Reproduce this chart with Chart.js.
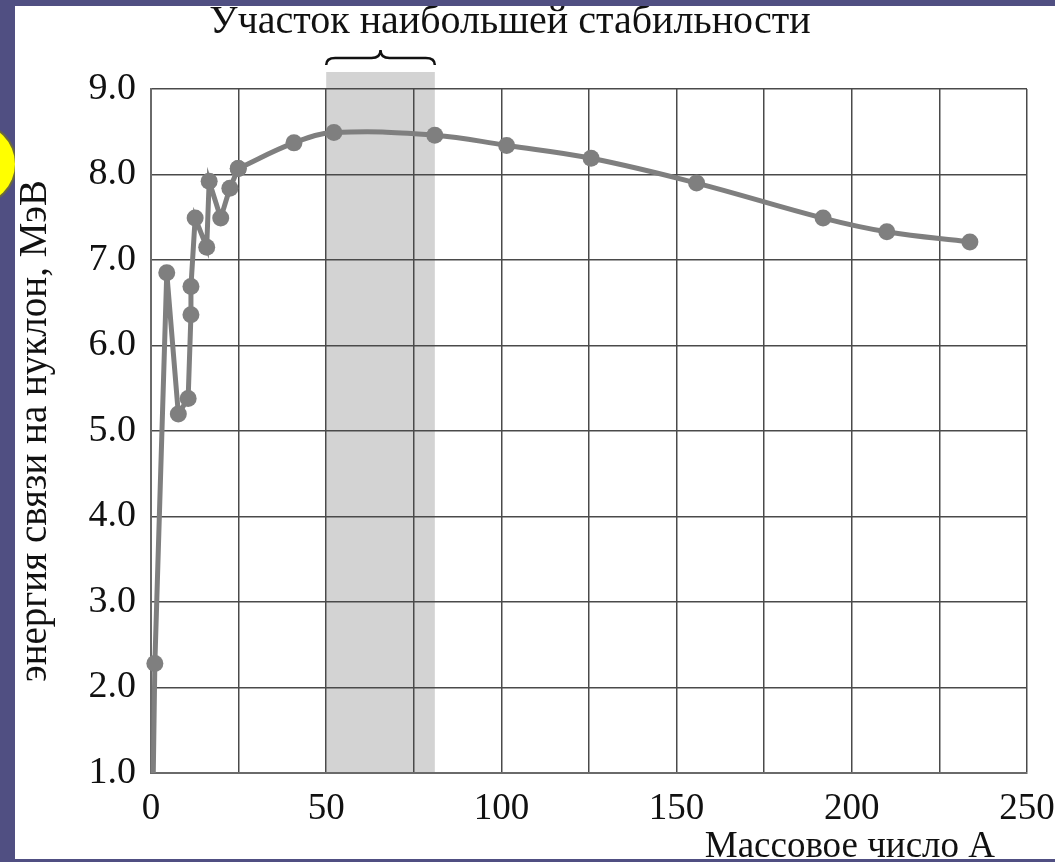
<!DOCTYPE html>
<html>
<head>
<meta charset="utf-8">
<script src="https://cdn.jsdelivr.net/npm/chart.js@4.4.1/dist/chart.umd.min.js"></script>
<style>
  html, body { margin: 0; padding: 0; }
  body { width: 1055px; height: 862px; background: #504f82; position: relative; overflow: hidden; }
  #sun { position: absolute; left: -65px; top: 124px; width: 80px; height: 80px; border-radius: 50%; background: #ffff00; box-shadow: 0 0 0 2px #6b6a3a; }
  #panel { position: absolute; left: 15px; top: 6px; width: 1040px; height: 853px; background: #ffffff; }
  canvas { display: block; }
</style>
</head>
<body>
<div id="sun"></div>
<div id="panel"><canvas id="c" width="1040" height="853"></canvas></div>
<script>
// ---- data ----
const massLight   = [0.3, 1.1, 4.5, 7.8, 10.6, 11.4, 11.4, 12.6, 15.9, 16.6, 19.9, 22.5, 24.9];
const energyLight = [0.0, 2.28, 6.85, 5.2, 5.38, 6.36, 6.69, 7.49, 7.15, 7.92, 7.49, 7.84, 8.07];
const massHeavy   = [24.9, 40.8, 52.2, 81.0, 101.5, 125.6, 155.7, 191.8, 210.0, 233.7];
const energyHeavy = [8.07, 8.37, 8.49, 8.46, 8.34, 8.19, 7.90, 7.49, 7.33, 7.21];
const xTickValues = [0, 50, 100, 150, 200, 250];
const xTickLabels = ['0', '50', '100', '150', '200', '250'];
const yTickValues = [1, 2, 3, 4, 5, 6, 7, 8, 9];
const yTickLabels = ['1.0', '2.0', '3.0', '4.0', '5.0', '6.0', '7.0', '8.0', '9.0'];
const stableRange = [50, 81];
const titleText = 'Участок наибольшей стабильности';
const xTitleText = 'Массовое число А';
const yTitleText = 'энергия связи на нуклон, МэВ';

const SERIF = '"Liberation Serif", "DejaVu Serif", serif';
const LINE = '#7f7f7f';
const Y_MIN = 1, Y_MAX = 9;

function pts(xs, ys) { return xs.map((x, i) => ({ x: x, y: ys[i] })); }

const decor = {
  id: 'decor',
  beforeDraw(chart) {
    const { ctx, chartArea: a, scales: { x } } = chart;
    const x1 = x.getPixelForValue(stableRange[0]);
    const x2 = x.getPixelForValue(stableRange[1]);
    ctx.save();
    ctx.fillStyle = '#d3d3d3';
    ctx.fillRect(x1, a.top - 17, x2 - x1, a.bottom - a.top + 17);
    // brace
    const yEnd = a.top - 24, yMid = a.top - 31, yTip = a.top - 39, xm = (x1 + x2) / 2;
    ctx.strokeStyle = '#111';
    ctx.lineWidth = 2.5;
    ctx.beginPath();
    ctx.moveTo(x1, yEnd);
    ctx.quadraticCurveTo(x1, yMid, x1 + 9, yMid);
    ctx.lineTo(xm - 9, yMid);
    ctx.quadraticCurveTo(xm, yMid, xm, yTip);
    ctx.quadraticCurveTo(xm, yMid, xm + 9, yMid);
    ctx.lineTo(x2 - 9, yMid);
    ctx.quadraticCurveTo(x2, yMid, x2, yEnd);
    ctx.stroke();
    ctx.restore();
  },
  afterDraw(chart) {
    const { ctx, chartArea: a } = chart;
    ctx.save();
    ctx.fillStyle = '#111';
    ctx.font = '40px ' + SERIF;
    ctx.textAlign = 'center';
    ctx.textBaseline = 'alphabetic';
    ctx.fillText(titleText, 495, 27);
    ctx.font = '37px ' + SERIF;
    ctx.textAlign = 'right';
    ctx.fillText(xTitleText, a.right - 32, 851);
    ctx.restore();
  }
};

new Chart(document.getElementById('c'), {
  type: 'scatter',
  data: {
    datasets: [
      {
        data: pts(massLight, energyLight),
        showLine: true, tension: 0,
        borderColor: LINE, borderWidth: 5, backgroundColor: LINE,
        pointRadius: ctx => (ctx.raw && ctx.raw.y < Y_MIN ? 0 : 8.5),
        pointBorderWidth: 0, pointHoverRadius: 0,
        clip: { left: 12, top: 12, right: 12, bottom: 0 }
      },
      {
        data: pts(massHeavy, energyHeavy),
        showLine: true, tension: 0.4,
        borderColor: LINE, borderWidth: 5, backgroundColor: LINE,
        pointRadius: 8.5, pointBorderWidth: 0, pointHoverRadius: 0,
        clip: { left: 12, top: 12, right: 12, bottom: 0 }
      }
    ]
  },
  options: {
    responsive: false,
    animation: false,
    events: [],
    layout: { padding: { top: 83, right: 28, bottom: 0, left: 0 } },
    plugins: { legend: { display: false }, tooltip: { enabled: false }, title: { display: false } },
    scales: {
      x: {
        type: 'linear', min: 0, max: 250,
        afterFit: s => { s.height = 86; s.paddingLeft = 0; s.paddingRight = 0; },
        ticks: {
          stepSize: 25, autoSkip: false, maxRotation: 0, padding: 14,
          color: '#111', font: { family: SERIF, size: 37 },
          callback: v => { const i = xTickValues.indexOf(v); return i >= 0 ? xTickLabels[i] : ''; }
        },
        grid: { color: '#4a4a4a', lineWidth: 1.5, drawTicks: false },
        border: { color: '#6a6a6a', width: 2 }
      },
      y: {
        type: 'linear', min: Y_MIN, max: Y_MAX,
        afterFit: s => { s.width = 136; s.paddingTop = 0; s.paddingBottom = 0; },
        ticks: {
          stepSize: 1, padding: 15,
          color: '#111', font: { family: SERIF, size: 38 },
          callback: v => { const i = yTickValues.indexOf(v); return i >= 0 ? yTickLabels[i] : ''; }
        },
        grid: { color: '#4a4a4a', lineWidth: 1.5, drawTicks: false },
        border: { color: '#6a6a6a', width: 2 },
        title: {
          display: true, text: yTitleText, color: '#111',
          font: { family: SERIF, size: 39, lineHeight: 1 },
          padding: { top: 1, bottom: 0 }
        }
      }
    }
  },
  plugins: [decor]
});
</script>
</body>
</html>
